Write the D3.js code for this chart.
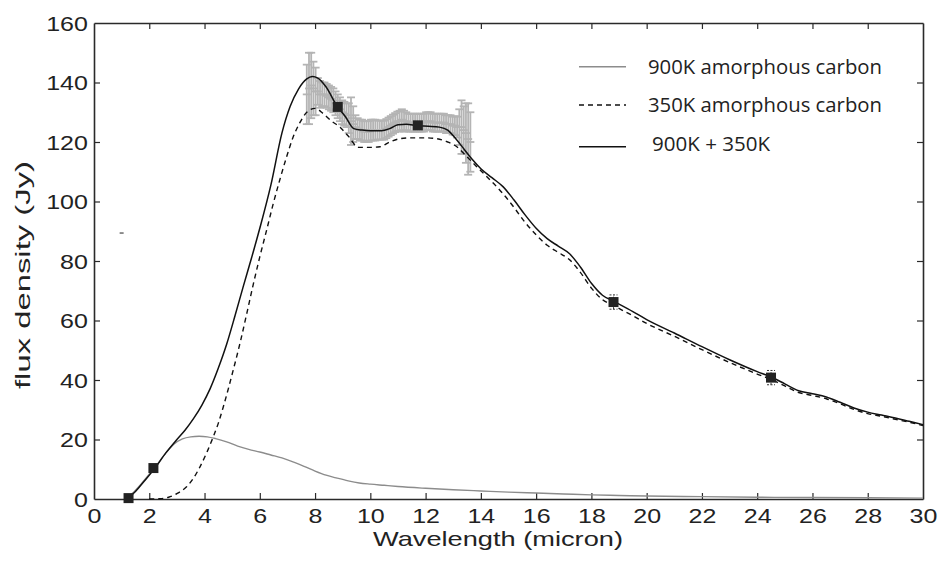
<!DOCTYPE html>
<html>
<head>
<meta charset="utf-8">
<script src="https://cdn.jsdelivr.net/npm/d3@7"></script>
<style>
  body { margin: 0; background: #fff; }
  svg { display: block; }
</style>
</head>
<body>
<svg id="chart" width="943" height="561"></svg>
<script>
// ---- data ----
const totalX = [1.2,1.5,1.8,2.2,2.6,3.0,3.3,3.6,3.9,4.2,4.5,4.8,5.1,5.4,5.7,6.0,6.4,6.8,7.1,7.4,7.7,7.9,8.1,8.4,8.8,9.1,9.4,9.7,10.0,10.4,10.7,11.0,11.3,11.7,12.1,12.5,12.8,13.1,13.4,13.7,14.0,14.4,14.8,15.2,15.6,16.0,16.4,16.8,17.2,17.6,18.0,18.4,18.8,19.5,20.0,21.0,22.0,23.0,24.0,24.5,25.0,25.5,26.0,26.5,27.0,27.5,28.0,28.5,29.0,29.5,30.0];
const totalY = [0,2.5,5.8,10.3,15.5,20,23.2,27,31.5,37,44,52,61.5,71.4,81,91,105.5,123,132,137.8,141.2,142,141.5,138.5,132,128.5,124.5,124,123.8,123.8,124.5,125.8,126,125.5,125.3,125,124,121,117.5,114,111,108,105,100.5,95.5,91,87.5,85,82.5,78,72.5,68.5,66.5,63,60.3,55.8,51.2,46.8,42.8,41,38.7,36.4,35.4,34.3,32.5,30.6,29.2,28.2,27.2,26.1,25];

const coolX = [2.0,2.4,2.7,3.0,3.35,3.6,3.84,4.1,4.32,4.5,4.68,5.04,5.3,5.53,5.76,6.0,6.25,6.49,6.73,6.97,7.2,7.45,7.7,8.0,8.3,8.6,8.9,9.2,9.57,10.0,10.35,10.7,11.07,11.5,12.0,12.4,12.8,13.13,13.5,13.85,14.2,14.81,15.2,15.6,16.0,16.4,16.8,17.2,17.6,18.0,18.4,18.8,19.5,20.0,21.0,22.0,23.0,24.0,24.5,25.0,25.5,26.0,26.5,27.0,27.5,28.0,28.5,29.0,29.5,30.0];
const coolY = [0,0.1,0.6,1.8,4.1,7,10.9,16,21,25.5,31,43.4,53,62.4,72,81.4,90.5,99.4,107.5,115,121.5,126.5,130,131.3,129.5,127,125,122,118.2,118.2,118.4,120,121.1,121.4,121.4,121.1,120,118.4,115,111.7,108.5,102.5,98,93,88.8,85.3,82.9,80.5,76.2,70.9,67,65,61.6,59,54.7,50.2,45.9,42,40.2,38,35.8,34.8,33.7,32,30.1,28.7,27.8,26.8,25.8,24.7];

const hotX = [1.15,1.4,1.7,2.0,2.3,2.6,2.9,3.2,3.5,3.8,4.1,4.4,4.8,5.2,5.6,6.0,6.4,6.8,7.2,7.6,8.0,8.4,8.8,9.2,9.6,10.0,10.5,11.0,12.0,13.0,14.0,15.0,16.0,17.0,18.0,19.0,20.0,22.0,24.0,26.0,28.0,30.0];
const hotY = [0,2,5,8.3,11.8,15.5,18.5,20.2,20.9,21.1,20.9,20.3,19.2,17.8,16.7,15.8,14.8,13.8,12.5,11,9.4,8,7,6.1,5.4,5,4.6,4.2,3.6,3.1,2.7,2.3,2.0,1.7,1.4,1.2,1.0,0.8,0.6,0.5,0.4,0.3];

// spectrum (gray, with error bars)
const specX = [7.70,7.78,7.86,7.94,8.02,8.10,8.18,8.26,8.34,8.42,8.50,8.58,8.66,8.74,8.82,8.90,8.98,9.06,9.14,9.22,9.30,9.38,9.46,9.54,9.62,9.70,9.78,9.86,9.94,10.02,10.10,10.18,10.26,10.34,10.42,10.50,10.58,10.66,10.74,10.82,10.90,10.98,11.06,11.14,11.22,11.30,11.38,11.46,11.54,11.62,11.70,11.78,11.86,11.94,12.02,12.10,12.18,12.26,12.34,12.42,12.50,12.58,12.66,12.74,12.82,12.90,12.98,13.06,13.14,13.22,13.30,13.38,13.46,13.54,13.62];
const specY = [136,138,139,138,137,137,136,136,136,135.5,135,134.5,134,133,132,131,130,129.5,129,128,127,126,125,124.5,124,124,123.5,123.5,123.5,124,124,124,124,124,124,124,124.5,125,125.5,126,126.5,127,127,127.5,127,127,126.5,126.5,126.5,126.5,126.5,126.5,126.5,126.5,127,127,127,126.5,126.5,126.5,126.5,126.5,126.5,126,126,126,125.5,125.5,125,125,125,124,123,121,120];
const specErr = [10,12,11,9,8,4.5,4.5,4,4,4,4,4,4,4,4,4,4,4,4,5,8,6,4,3.5,3.5,3.5,3.5,3.5,3.5,3.5,3.5,3.5,3.2,3.2,3.2,3.2,3.2,3.2,3.2,3.2,3.2,3.2,3.5,3.5,3.5,3,3,3,3,3,3,3,3,3,3,3,3,3,3,3,3,3,3,3,3,3,3,3.2,3.5,6,9,8,10,12,10];

// photometry (black squares)
const photX = [1.25,2.15,8.82,11.72,18.8,24.5];
const photY = [0.3,10.4,131.8,125.6,66.2,40.8];
const photErr = [0.5,0.8,1.2,1.2,2.4,2.4];

const xTicks = [0,2,4,6,8,10,12,14,16,18,20,22,24,26,28,30];
const yTicks = [0,20,40,60,80,100,120,140,160];

const legendLabels = ["900K amorphous carbon","350K amorphous carbon","900K + 350K"];
const xLabel = "Wavelength (micron)";
const yLabel = "flux density (Jy)";

// ---- drawing ----
const svg = d3.select("#chart");
const L = 94, R = 923, T = 23, B = 499;
const x = d3.scaleLinear().domain([0,30]).range([L,R]);
const y = d3.scaleLinear().domain([0,160]).range([B,T]);

const tickFont = "'Liberation Sans', Arial, Helvetica, sans-serif";
const axisColor = "#2a2a2a";

// axes
const gx = svg.append("g").attr("transform",`translate(0,${B})`)
  .call(d3.axisBottom(x).tickValues(xTicks).tickSizeInner(-6).tickSizeOuter(0).tickPadding(9));
const gxt = svg.append("g").attr("transform",`translate(0,${T})`)
  .call(d3.axisTop(x).tickValues(xTicks).tickSizeInner(-6).tickSizeOuter(0).tickFormat(""));
const gy = svg.append("g").attr("transform",`translate(${L},0)`)
  .call(d3.axisLeft(y).tickValues(yTicks).tickSizeInner(-6).tickSizeOuter(0).tickPadding(5));
const gyr = svg.append("g").attr("transform",`translate(${R},0)`)
  .call(d3.axisRight(y).tickValues(yTicks).tickSizeInner(-6).tickSizeOuter(0).tickFormat(""));

[gx,gxt,gy,gyr].forEach(g => {
  g.select(".domain").attr("stroke",axisColor).attr("stroke-width",1.6);
  g.selectAll(".tick line").attr("stroke",axisColor).attr("stroke-width",1.2);
  g.selectAll("text").attr("font-family",tickFont).attr("font-size",20.5).attr("fill","#222");
});
gx.selectAll(".tick text").attr("transform","scale(1.22,1)");
gy.selectAll(".tick text").attr("transform","scale(1.22,1)").attr("dy","0.36em");
// hide the edge ticks sitting on the frame
gx.selectAll(".tick line").filter(d => d===0 || d===30).remove();
gxt.selectAll(".tick line").filter(d => d===0 || d===30).remove();
gy.selectAll(".tick line").filter(d => d===0 || d===160).remove();
gyr.selectAll(".tick line").filter(d => d===0 || d===160).remove();

// axis labels
svg.append("text").attr("x",498).attr("y",546)
  .attr("text-anchor","middle").attr("font-family",tickFont).attr("font-size",21)
  .attr("fill","#222").attr("textLength",250).attr("lengthAdjust","spacingAndGlyphs")
  .text(xLabel);
svg.append("text").attr("transform",`translate(30,${275}) rotate(-90)`)
  .attr("text-anchor","middle").attr("font-family",tickFont).attr("font-size",21)
  .attr("fill","#222").attr("textLength",228).attr("lengthAdjust","spacingAndGlyphs")
  .text(yLabel);

// spectrum error bars
const spec = specX.map((d,i)=>({x:d,y:specY[i],e:specErr[i]}));
const sg = svg.append("g").attr("stroke","#b4b4b4").attr("stroke-width",1.8).attr("fill","none");
sg.selectAll("line.v").data(spec).join("line").attr("class","v")
  .attr("x1",d=>x(d.x)).attr("x2",d=>x(d.x)).attr("y1",d=>y(d.y-d.e)).attr("y2",d=>y(d.y+d.e));
sg.selectAll("line.ct").data(spec).join("line").attr("class","ct")
  .attr("x1",d=>x(d.x)-4).attr("x2",d=>x(d.x)+4).attr("y1",d=>y(d.y+d.e)).attr("y2",d=>y(d.y+d.e));
sg.selectAll("line.cb").data(spec).join("line").attr("class","cb")
  .attr("x1",d=>x(d.x)-4).attr("x2",d=>x(d.x)+4).attr("y1",d=>y(d.y-d.e)).attr("y2",d=>y(d.y-d.e));
sg.selectAll("line.cm").data(spec).join("line").attr("class","cm")
  .attr("x1",d=>x(d.x)-4).attr("x2",d=>x(d.x)+4).attr("y1",d=>y(d.y)).attr("y2",d=>y(d.y));

// model curves
const line = d3.line().x(d=>x(d[0])).y(d=>y(d[1])).curve(d3.curveMonotoneX);
svg.append("path").datum(hotX.map((d,i)=>[d,hotY[i]])).attr("d",line)
  .attr("fill","none").attr("stroke","#8c8c8c").attr("stroke-width",1.4);
svg.append("path").datum(coolX.map((d,i)=>[d,coolY[i]])).attr("d",line)
  .attr("fill","none").attr("stroke","#111").attr("stroke-width",1.4).attr("stroke-dasharray","5,4");
svg.append("path").datum(totalX.map((d,i)=>[d,totalY[i]])).attr("d",line)
  .attr("fill","none").attr("stroke","#111").attr("stroke-width",1.5);

// photometry
const phot = photX.map((d,i)=>({x:d,y:photY[i],e:photErr[i]}));
const pg = svg.append("g");
pg.selectAll("line.pe").data(phot).join("line").attr("class","pe")
  .attr("x1",d=>x(d.x)).attr("x2",d=>x(d.x)).attr("y1",d=>y(d.y-d.e)).attr("y2",d=>y(d.y+d.e))
  .attr("stroke","#333").attr("stroke-width",1).attr("stroke-dasharray","2,1.5");
pg.selectAll("line.pt").data(phot).join("line").attr("class","pt")
  .attr("x1",d=>x(d.x)-4).attr("x2",d=>x(d.x)+4).attr("y1",d=>y(d.y+d.e)).attr("y2",d=>y(d.y+d.e))
  .attr("stroke","#333").attr("stroke-width",1).attr("stroke-dasharray","2,1.5");
pg.selectAll("line.pb").data(phot).join("line").attr("class","pb")
  .attr("x1",d=>x(d.x)-4).attr("x2",d=>x(d.x)+4).attr("y1",d=>y(d.y-d.e)).attr("y2",d=>y(d.y-d.e))
  .attr("stroke","#333").attr("stroke-width",1).attr("stroke-dasharray","2,1.5");
pg.selectAll("rect").data(phot).join("rect")
  .attr("x",d=>x(d.x)-5).attr("y",d=>y(d.y)-5).attr("width",10).attr("height",10)
  .attr("fill","#222");

// stray tick mark seen in the reference
svg.append("line").attr("x1",x(1.0)-2).attr("x2",x(1.0)+2).attr("y1",y(89.4)).attr("y2",y(89.4))
  .attr("stroke","#444").attr("stroke-width",1.2);

// legend
const legFont = "'Open Sans', 'Noto Sans', sans-serif";
const legRows = [
  {label:legendLabels[0], ly:66.7, ty:73.5, stroke:"#8c8c8c", dash:null, tl:234, tx:648},
  {label:legendLabels[1], ly:105, ty:111.5, stroke:"#111", dash:"5,4", tl:234, tx:648},
  {label:legendLabels[2], ly:146.7, ty:150.5, stroke:"#111", dash:null, tl:118, tx:652}
];
const lg = svg.append("g");
legRows.forEach(r => {
  lg.append("line").attr("x1",579).attr("x2",626).attr("y1",r.ly).attr("y2",r.ly)
    .attr("stroke",r.stroke).attr("stroke-width",1.4).attr("stroke-dasharray",r.dash);
  lg.append("text").attr("x",r.tx).attr("y",r.ty)
    .attr("font-family",legFont).attr("font-size",20).attr("fill","#222")
    .attr("textLength",r.tl).attr("lengthAdjust","spacingAndGlyphs").text(r.label);
});
</script>
</body>
</html>
